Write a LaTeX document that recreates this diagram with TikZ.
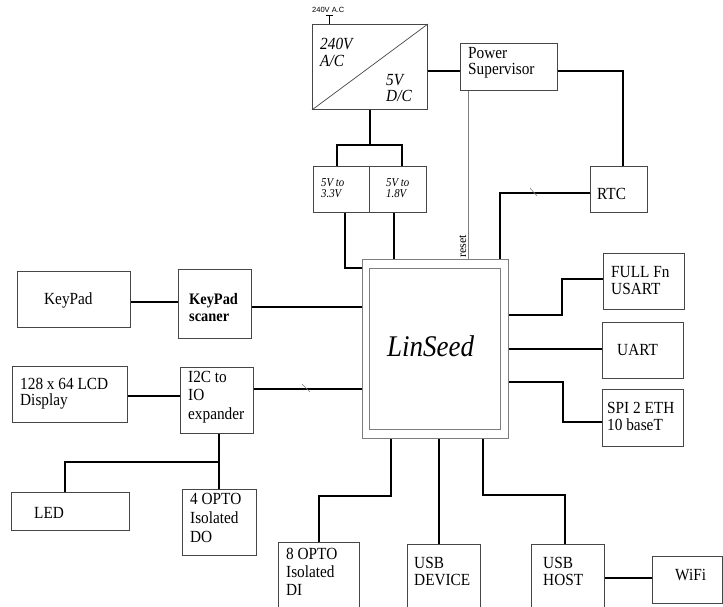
\documentclass[tikz,border=0pt]{standalone}
\usepackage{fontspec}
\setmainfont{Liberation Serif}
\newfontfamily\tnr[FakeStretch=0.9]{Liberation Serif}
\newfontfamily\tinysans{Liberation Sans}
\definecolor{boxgray}{RGB}{70,70,70}
\definecolor{lingray}{RGB}{125,125,125}
\tikzset{
  blk/.style={draw=boxgray, line width=0.9pt, fill=white, inner sep=0pt, anchor=north west},
  linbox/.style={draw=lingray, line width=1.1pt, inner sep=0pt, anchor=north west},
  conn/.style={line width=2.6pt, black},
  thin/.style={line width=0.8pt, lingray},
  tickm/.style={line width=0.6pt, gray},
  txt/.style={inner sep=0pt, anchor=north west, align=left, text=black},
  nf/.style={font=\tnr\fontsize{17}{#1}\selectfont},
  itf/.style={font=\tnr\itshape\fontsize{17}{#1}\selectfont},
  smit/.style={font=\tnr\itshape\fontsize{12}{11.5}\selectfont}
}
\newcommand{\bx}[5]{\node[blk, minimum width=#4-#2, minimum height=#5-#3] (#1) at (#2,#3) {};}
\begin{document}
\begin{tikzpicture}[x=1pt, y=-1pt]
\path[use as bounding box, fill=white] (0,0) rectangle (723,607);
\clip (0,0) rectangle (723,607);

% boxes
\bx{psu}{312}{24}{427}{109}
\bx{sup}{460}{43}{557}{90}
\bx{rtc}{590}{166}{647}{212}
\bx{reg1}{313}{166}{369}{212}
\bx{reg2}{369}{166}{426}{212}
\bx{kp}{17}{271}{130}{327}
\bx{kps}{178}{269}{251}{338}
\bx{lcd}{12}{366}{127}{422}
\bx{i2c}{180}{367}{253}{433}
\bx{led}{11}{492}{129}{530}
\bx{dofour}{182}{489}{256}{555}
\bx{dieight}{278}{542}{359}{625}
\bx{usbd}{407}{544}{480}{625}
\bx{usbh}{531}{544}{604}{625}
\bx{wifi}{652}{556}{722}{603}
\bx{usart}{603}{253}{684}{309}
\bx{uart}{602}{322}{683}{378}
\bx{spi}{602}{389}{683}{446}
\node[linbox, minimum width=146, minimum height=179] (lin) at (362,259) {};
\node[linbox, minimum width=131, minimum height=161] (linin) at (369,268) {};

% converter diagonal
\draw[line width=0.7pt, boxgray] (psu.south west) -- (psu.north east);

% input mark
\coordinate (acin) at (329,15);
\draw[line width=0.8pt] (psu.north -| acin) -- (acin);
\draw[line width=0.8pt] ([xshift=-3.5]acin) -- ([xshift=3.5]acin);

% connectors
\draw[conn] (psu.east |- 0,71) -- (sup.west |- 0,71);
\draw[conn] (sup.east |- 0,71) -| (rtc.north -| 623,0);
\draw[conn] (rtc.west |- 0,193) -| (lin.north -| 500,0);
\coordinate (pj) at (370,145);
\draw[conn] (psu.south -| pj) -- (pj);
\draw[conn] (reg1.north -| 337,0) |- (pj) -| (reg2.north -| 402,0);
\draw[conn] (reg1.south -| 345,0) |- (lin.west |- 0,268);
\draw[conn] (reg2.south -| 394,0) -- (lin.north -| 394,0);
\draw[thin] (sup.south -| 468,0) -- (lin.north -| 468,0);
\draw[conn] (kp.east |- 0,302) -- (kps.west |- 0,302);
\draw[conn] (kps.east |- 0,307) -- (lin.west |- 0,307);
\draw[conn] (lcd.east |- 0,396) -- (i2c.west |- 0,396);
\draw[conn] (i2c.east |- 0,389) -- (lin.west |- 0,389);
\coordinate (ij) at (219,462);
\draw[conn] (i2c.south -| ij) -- (dofour.north -| ij);
\draw[conn] (led.north -| 65,0) |- (ij);
\draw[conn] (lin.east |- 0,315) -| (562,279) -- (usart.west |- 0,279);
\draw[conn] (lin.east |- 0,349) -- (uart.west |- 0,349);
\draw[conn] (lin.east |- 0,382) -| (563,422) -- (spi.west |- 0,422);
\draw[conn] (lin.south -| 391,0) |- (319,496) -- (dieight.north -| 319,0);
\draw[conn] (lin.south -| 439,0) -- (usbd.north -| 439,0);
\draw[conn] (lin.south -| 483,0) |- (565,495) -- (usbh.north -| 565,0);
\draw[conn] (usbh.east |- 0,578) -- (wifi.west |- 0,578);

% tick marks
\draw[tickm] (530,188) -- (537,196);
\draw[tickm] (302,384) -- (310,392);

% texts
\node[txt, font=\tinysans\fontsize{7.5}{8}\selectfont] (tacin) at (312,7) {240V A.C};
\node[txt, itf=17] (tpsua) at (320,38) {240V\\A/C};
\node[txt, itf=16.5] (tpsub) at (386,74) {5V\\D/C};
\node[txt, nf=16.5] (tsup) at (468,47) {Power\\Supervisor};
\node[txt, smit] (treg1) at (321,178) {5V to\\3.3V};
\node[txt, smit] (treg2) at (386,178) {5V to\\1.8V};
\node[txt, nf=17] (tkp) at (44,293) {KeyPad};
\node[txt, font=\tnr\bfseries\fontsize{16}{17}\selectfont] (tkps) at (189,293) {KeyPad\\scaner};
\node[txt, nf=16] (tlcd) at (20,378) {128 x 64 LCD\\Display};
\node[txt, nf=18.5] (ti2c) at (188,371) {I2C to\\IO\\expander};
\node[txt, nf=17] (tled) at (34,507) {LED};
\node[txt, nf=19] (tdo) at (190,493) {4 OPTO\\Isolated\\DO};
\node[txt, nf=18] (tdi) at (286,548) {8 OPTO\\Isolated\\DI};
\node[txt, nf=17] (tusbd) at (414,557) {USB\\DEVICE};
\node[txt, nf=17] (tusbh) at (543,557) {USB\\HOST};
\node[txt, nf=17] (twifi) at (675,569) {WiFi};
\node[txt, nf=17] (tusart) at (611,266) {FULL Fn\\USART};
\node[txt, nf=17] (tuart) at (617,344) {UART};
\node[txt, nf=17] (tspi) at (607,402) {SPI 2 ETH\\10 baseT};
\node[txt, nf=17] (trtc) at (597,188) {RTC};
\node[txt, font=\tnr\itshape\fontsize{30}{30}\selectfont] (tlin) at (387,335) {LinSeed};
\node[inner sep=0pt, anchor=base west, rotate=90, font=\fontsize{12}{12}\selectfont] (treset) at (466,258) {reset};
\end{tikzpicture}
\end{document}
